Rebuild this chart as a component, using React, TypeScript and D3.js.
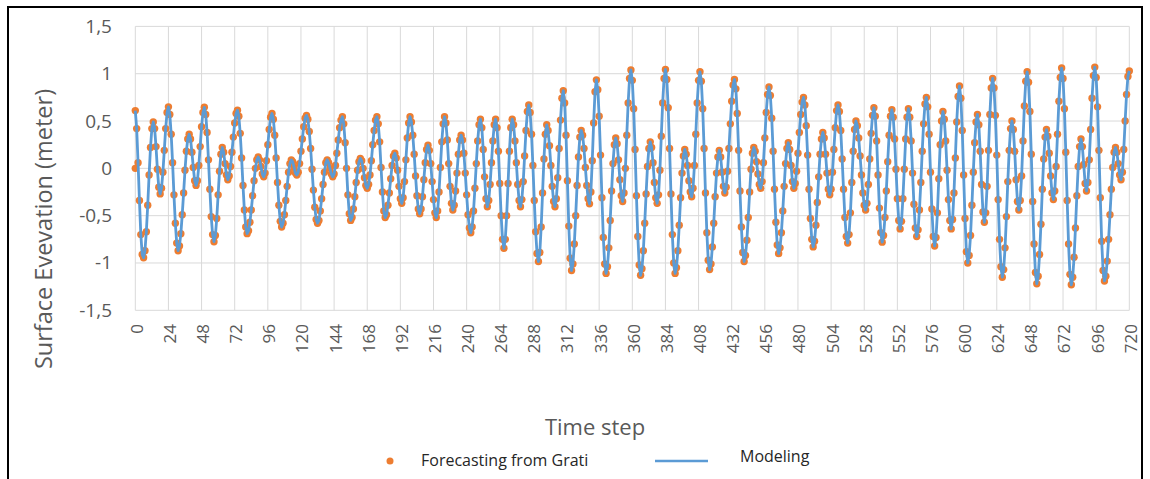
import React from "react";
import * as d3 from "d3";

// hourly surface elevation (m), 5 days per block
const hours000to119 = [
  0.61, 0.42, 0.06, -0.34, -0.7, -0.91, -0.945, -0.87, -0.67, -0.39, -0.07, 0.22, 0.42, 0.49, 0.42, 0.23, -0.01, -0.2, -0.27, -0.21, -0.04, 0.19, 0.42, 0.59,
  0.65, 0.57, 0.36, 0.06, -0.28, -0.58, -0.79, -0.87, -0.82, -0.69, -0.49, -0.26, -0.02, 0.18, 0.31, 0.36, 0.31, 0.17, 0.01, -0.13, -0.18, -0.13, 0.03, 0.23,
  0.44, 0.59, 0.645, 0.57, 0.38, 0.09, -0.22, -0.51, -0.7, -0.775, -0.71, -0.53, -0.28, -0.03, 0.15, 0.22, 0.17, 0.05, -0.07, -0.12, -0.08, 0.02, 0.17, 0.33,
  0.48, 0.58, 0.615, 0.55, 0.37, 0.11, -0.18, -0.44, -0.62, -0.69, -0.66, -0.57, -0.44, -0.29, -0.13, 0.0, 0.09, 0.12, 0.09, 0.02, -0.06, -0.09, -0.05, 0.08,
  0.25, 0.41, 0.54, 0.58, 0.52, 0.35, 0.11, -0.15, -0.39, -0.56, -0.62, -0.58, -0.49, -0.34, -0.19, -0.04, 0.05, 0.09, 0.07, 0.01, -0.05, -0.07, -0.04, 0.05,
];
const hours120to239 = [
  0.18, 0.31, 0.44, 0.53, 0.56, 0.52, 0.39, 0.21, -0.01, -0.23, -0.41, -0.54, -0.58, -0.55, -0.45, -0.32, -0.17, -0.04, 0.06, 0.09, 0.06, 0.0, -0.06, -0.09,
  -0.06, 0.03, 0.16, 0.3, 0.43, 0.51, 0.545, 0.47, 0.27, 0.0, -0.28, -0.48, -0.55, -0.52, -0.43, -0.3, -0.15, -0.02, 0.07, 0.105, 0.08, 0.0, -0.1, -0.18,
  -0.21, -0.17, -0.07, 0.08, 0.25, 0.4, 0.51, 0.545, 0.47, 0.28, 0.01, -0.25, -0.45, -0.52, -0.49, -0.39, -0.26, -0.11, 0.03, 0.13, 0.16, 0.11, -0.02, -0.19,
  -0.32, -0.37, -0.31, -0.14, 0.09, 0.32, 0.48, 0.545, 0.49, 0.35, 0.15, -0.08, -0.29, -0.43, -0.48, -0.43, -0.3, -0.12, 0.06, 0.2, 0.245, 0.19, 0.05, -0.14,
  -0.33, -0.47, -0.52, -0.45, -0.25, 0.01, 0.28, 0.47, 0.545, 0.48, 0.3, 0.05, -0.19, -0.37, -0.44, -0.39, -0.24, -0.05, 0.15, 0.3, 0.35, 0.3, 0.16, -0.05,
];
const hours240to359 = [
  -0.28, -0.49, -0.63, -0.68, -0.62, -0.45, -0.21, 0.05, 0.29, 0.46, 0.52, 0.43, 0.2, -0.09, -0.32, -0.405, -0.34, -0.17, 0.06, 0.29, 0.46, 0.52, 0.43, 0.18,
  -0.16, -0.5, -0.75, -0.845, -0.75, -0.5, -0.16, 0.18, 0.43, 0.52, 0.46, 0.29, 0.06, -0.17, -0.34, -0.405, -0.33, -0.14, 0.13, 0.4, 0.6, 0.67, 0.59, 0.36,
  0.03, -0.34, -0.67, -0.9, -0.985, -0.89, -0.62, -0.26, 0.1, 0.36, 0.46, 0.4, 0.24, 0.03, -0.19, -0.35, -0.405, -0.32, -0.1, 0.21, 0.51, 0.74, 0.82, 0.69,
  0.35, -0.13, -0.61, -0.95, -1.08, -1.01, -0.8, -0.5, -0.18, 0.12, 0.33, 0.4, 0.35, 0.21, 0.01, -0.18, -0.32, -0.375, -0.25, 0.08, 0.48, 0.81, 0.935, 0.83,
  0.55, 0.14, -0.31, -0.73, -1.01, -1.11, -1.04, -0.84, -0.55, -0.24, 0.05, 0.25, 0.32, 0.26, 0.09, -0.12, -0.29, -0.35, -0.26, 0.0, 0.35, 0.69, 0.95, 1.04,
];
const hours360to479 = [
  0.93, 0.63, 0.2, -0.29, -0.72, -1.02, -1.13, -1.06, -0.87, -0.58, -0.27, 0.02, 0.21, 0.28, 0.22, 0.06, -0.15, -0.31, -0.37, -0.28, -0.02, 0.34, 0.69, 0.95,
  1.045, 0.94, 0.64, 0.21, -0.27, -0.7, -1.0, -1.11, -1.05, -0.87, -0.6, -0.31, -0.05, 0.13, 0.2, 0.15, 0.03, -0.13, -0.25, -0.3, -0.21, 0.03, 0.36, 0.69,
  0.93, 1.02, 0.92, 0.63, 0.21, -0.26, -0.68, -0.97, -1.07, -1.01, -0.83, -0.58, -0.3, -0.05, 0.12, 0.19, 0.12, -0.04, -0.19, -0.26, -0.2, -0.03, 0.21, 0.47,
  0.71, 0.88, 0.94, 0.84, 0.58, 0.19, -0.24, -0.62, -0.89, -0.985, -0.92, -0.76, -0.52, -0.25, -0.01, 0.16, 0.22, 0.18, 0.07, -0.06, -0.17, -0.21, -0.14, 0.06,
  0.32, 0.59, 0.78, 0.86, 0.77, 0.53, 0.18, -0.22, -0.57, -0.81, -0.9, -0.84, -0.68, -0.45, -0.19, 0.05, 0.21, 0.27, 0.2, 0.03, -0.14, -0.21, -0.16, -0.03,
];
const hours480to599 = [
  0.16, 0.38, 0.57, 0.7, 0.75, 0.67, 0.45, 0.14, -0.22, -0.53, -0.75, -0.83, -0.77, -0.6, -0.36, -0.09, 0.15, 0.31, 0.38, 0.32, 0.15, -0.05, -0.22, -0.28,
  -0.22, -0.04, 0.2, 0.43, 0.61, 0.67, 0.6, 0.4, 0.1, -0.22, -0.52, -0.72, -0.79, -0.7, -0.47, -0.15, 0.18, 0.41, 0.5, 0.45, 0.32, 0.13, -0.07, -0.26,
  -0.39, -0.44, -0.37, -0.17, 0.1, 0.37, 0.56, 0.64, 0.55, 0.29, -0.07, -0.42, -0.68, -0.78, -0.71, -0.52, -0.24, 0.07, 0.35, 0.55, 0.62, 0.54, 0.31, -0.01,
  -0.32, -0.55, -0.64, -0.56, -0.32, -0.01, 0.31, 0.54, 0.63, 0.54, 0.29, -0.05, -0.38, -0.63, -0.72, -0.65, -0.44, -0.15, 0.18, 0.47, 0.68, 0.75, 0.65, 0.36,
  -0.04, -0.43, -0.72, -0.82, -0.73, -0.47, -0.11, 0.25, 0.5, 0.6, 0.52, 0.29, -0.02, -0.33, -0.55, -0.64, -0.54, -0.26, 0.11, 0.49, 0.76, 0.87, 0.74, 0.4,
];
const hours600to720 = [
  -0.07, -0.53, -0.88, -1.0, -0.92, -0.71, -0.39, -0.04, 0.27, 0.49, 0.57, 0.46, 0.18, -0.17, -0.46, -0.57, -0.47, -0.19, 0.19, 0.57, 0.85, 0.95, 0.85, 0.56,
  0.14, -0.33, -0.75, -1.04, -1.15, -1.07, -0.84, -0.51, -0.14, 0.19, 0.42, 0.5, 0.41, 0.18, -0.12, -0.35, -0.44, -0.34, -0.08, 0.29, 0.66, 0.92, 1.02, 0.91,
  0.6, 0.15, -0.35, -0.8, -1.1, -1.22, -1.14, -0.91, -0.59, -0.22, 0.1, 0.33, 0.41, 0.34, 0.16, -0.08, -0.26, -0.33, -0.24, 0.02, 0.36, 0.71, 0.96, 1.06,
  0.95, 0.63, 0.17, -0.34, -0.8, -1.12, -1.23, -1.15, -0.94, -0.63, -0.29, 0.02, 0.23, 0.31, 0.23, 0.04, -0.16, -0.24, -0.15, 0.09, 0.41, 0.74, 0.98, 1.07,
  0.96, 0.65, 0.19, -0.31, -0.77, -1.08, -1.19, -1.14, -0.98, -0.75, -0.49, -0.22, 0.01, 0.17, 0.22, 0.17, 0.05, -0.07, -0.12, -0.04, 0.2, 0.5, 0.78, 0.97,
  1.03,
];

const modeling = [
  ...hours000to119,
  ...hours120to239,
  ...hours240to359,
  ...hours360to479,
  ...hours480to599,
  ...hours600to720,
];
// the Grati forecast sits on the model curve, plus a stray zero at step 0
const forecastFromGrati = modeling.slice();
const forecastExtra = [[0, 0]];

const yTicks = [1.5, 1, 0.5, 0, -0.5, -1, -1.5];
const xTicks = [0, 24, 48, 72, 96, 120, 144, 168, 192, 216, 240, 264, 288, 312, 336, 360, 384, 408, 432, 456, 480, 504, 528, 552, 576, 600, 624, 648, 672, 696, 720];

const W = 1150;
const H = 479;
const plot = { left: 135.3, right: 1129.3, top: 26.4, bottom: 310.3 };
const BLUE = "#5B9BD5";
const ORANGE = "#ED7D31";
const GRID = "#d9d9d9";
const TXT = "#595959";
const FONT = "'Open Sans', 'Liberation Sans', sans-serif";

const App = () => {
  const x = d3.scaleLinear().domain([0, 720]).range([plot.left, plot.right]);
  const y = d3.scaleLinear().domain([-1.5, 1.5]).range([plot.bottom, plot.top]);

  const line = d3
    .line<number>()
    .x((d, i) => x(i))
    .y((d) => y(d));

  const fmt = (v: number) => String(v).replace(".", ",");

  const dots = [
    ...forecastExtra.map(([t, v]) => ({ t, v })),
    ...forecastFromGrati.map((v, t) => ({ t, v })),
  ];

  return (
    <svg
      width={W}
      height={H}
      style={{ position: "absolute", left: 0, top: 0, background: "#fff" }}
      fontFamily={FONT}
    >
      <rect x={0} y={0} width={W} height={H} fill="#fff" />
      <rect x={8} y={7} width={1134} height={520} fill="none" stroke="#000" strokeWidth={2} />

      {/* gridlines */}
      <g stroke={GRID} strokeWidth={1}>
        {yTicks.map((t) => (
          <line key={"h" + t} x1={plot.left} x2={plot.right} y1={y(t)} y2={y(t)} />
        ))}
        {xTicks.map((t) => (
          <line key={"v" + t} x1={x(t)} x2={x(t)} y1={plot.top} y2={plot.bottom} />
        ))}
      </g>

      {/* y tick labels */}
      <g fill={TXT} fontSize={19} textAnchor="end">
        {yTicks.map((t) => (
          <text key={"yl" + t} x={112} y={y(t) + 6.5}>
            {fmt(t)}
          </text>
        ))}
      </g>

      {/* x tick labels */}
      <g fill={TXT} fontSize={17} textAnchor="end">
        {xTicks.map((t) => (
          <text
            key={"xl" + t}
            transform={`translate(${x(t) + 1.5},${324}) rotate(-90)`}
            dy="0.35em"
          >
            {t}
          </text>
        ))}
      </g>

      {/* forecast markers under the model line */}
      <g fill={ORANGE}>
        {dots.map((d, i) => (
          <circle key={"d" + i} cx={x(d.t)} cy={y(d.v)} r={3.7} />
        ))}
      </g>
      <path d={line(modeling) || ""} fill="none" stroke={BLUE} strokeWidth={2.8} strokeLinejoin="round" />

      {/* axis titles */}
      <text
        transform={`translate(52,229) rotate(-90)`}
        textAnchor="middle"
        fontSize={23.5}
        fill={TXT}
      >
        Surface Evevation (meter)
      </text>
      <text x={595} y={435} textAnchor="middle" fontSize={22} fill={TXT}>
        Time step
      </text>

      {/* legend */}
      <circle cx={390} cy={461} r={3.5} fill={ORANGE} />
      <text x={421} y={466} fontSize={16} fill="#262626">
        Forecasting from Grati
      </text>
      <line x1={655} x2={708} y1={461} y2={461} stroke={BLUE} strokeWidth={2.6} />
      <text x={740} y={462} fontSize={16} fill="#262626">
        Modeling
      </text>
    </svg>
  );
};

export default App;
